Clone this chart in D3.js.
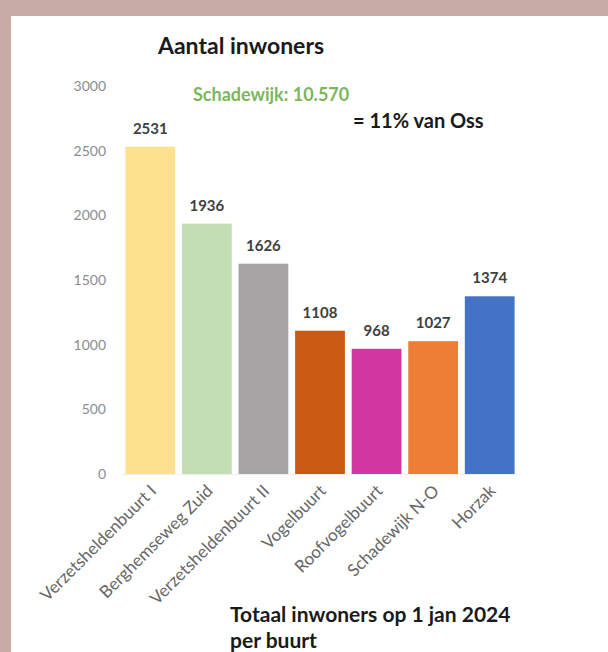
<!DOCTYPE html>
<html>
<head>
<meta charset="utf-8">
<script src="https://cdn.jsdelivr.net/npm/d3@7/dist/d3.min.js"></script>
<style>
  html, body { margin: 0; padding: 0; background: #c9aba6; }
  svg { display: block; }
</style>
</head>
<body>
<svg id="chart" width="608" height="652"></svg>
<script>
// Inwoners per buurt in Schadewijk (1 jan 2024)
const buurten = ["Verzetsheldenbuurt I", "Berghemseweg Zuid", "Verzetsheldenbuurt II",
                 "Vogelbuurt", "Roofvogelbuurt", "Schadewijk N-O", "Horzak"];
const inwoners = [2531, 1936, 1626, 1108, 968, 1027, 1374];
const kleuren = ["#fee18f", "#c2deb2", "#a8a4a5", "#c85a14", "#d136a1", "#ee7e33", "#4472c4"];
const yTicks = [0, 500, 1000, 1500, 2000, 2500, 3000];

const svg = d3.select("#chart");
const font = "Lato, 'Open Sans', sans-serif";

// white panel
svg.append("rect").attr("x", 11).attr("y", 16).attr("width", 597).attr("height", 636)
  .attr("fill", "#ffffff");

const x = d3.scaleBand().domain(buurten).range([122, 518])
  .paddingInner(0.12).paddingOuter(0.06);
const y = d3.scaleLinear().domain([0, 3000]).range([474, 86]);

// title
svg.append("text").attr("x", 241).attr("y", 54).attr("text-anchor", "middle")
  .attr("font-family", font).attr("font-weight", "bold").attr("font-size", 23)
  .attr("fill", "#1a1a1a").text("Aantal inwoners");

// y axis (labels only)
const yAxis = d3.axisLeft(y).tickValues(yTicks).tickFormat(d3.format("d"))
  .tickSize(0).tickPadding(0);
const gy = svg.append("g").attr("transform", "translate(106,0)").call(yAxis);
gy.select(".domain").remove();
gy.selectAll("text").attr("font-family", font).attr("font-size", 14)
  .attr("fill", "#8c8c8c");

// baseline
svg.append("line").attr("x1", x.range()[0]).attr("x2", x.range()[1])
  .attr("y1", y(0) + 0.5).attr("y2", y(0) + 0.5)
  .attr("stroke", "#eeeeee").attr("stroke-width", 1);

// bars
svg.append("g").selectAll("rect").data(buurten).join("rect")
  .attr("x", d => x(d)).attr("width", x.bandwidth())
  .attr("y", (d, i) => y(inwoners[i]))
  .attr("height", (d, i) => y(0) - y(inwoners[i]))
  .attr("fill", (d, i) => kleuren[i]);

// value labels
svg.append("g").selectAll("text").data(buurten).join("text")
  .attr("x", d => x(d) + x.bandwidth() / 2)
  .attr("y", (d, i) => y(inwoners[i]) - 13)
  .attr("text-anchor", "middle")
  .attr("font-family", font).attr("font-weight", "bold").attr("font-size", 15)
  .attr("fill", "#404040")
  .text((d, i) => inwoners[i]);

// x axis category labels, rotated
const xAxis = d3.axisBottom(x).tickSize(0).tickPadding(0);
const gx = svg.append("g").attr("transform", `translate(0,${y(0)})`).call(xAxis);
gx.select(".domain").remove();
gx.selectAll("text")
  .attr("font-family", font).attr("font-size", 17).attr("fill", "#666666")
  .attr("text-anchor", "end").attr("dy", null).attr("y", 0)
  .attr("transform", "translate(7,18) rotate(-45)");

// annotations
svg.append("text").attr("x", 193).attr("y", 101)
  .attr("font-family", font).attr("font-weight", "bold").attr("font-size", 18)
  .attr("fill", "#7db55a").text("Schadewijk: 10.570");
svg.append("text").attr("x", 353).attr("y", 128)
  .attr("font-family", font).attr("font-weight", "bold").attr("font-size", 20)
  .attr("fill", "#1a1a1a").text("= 11% van Oss");

svg.append("text").attr("x", 230).attr("y", 622)
  .attr("font-family", font).attr("font-weight", "bold").attr("font-size", 21)
  .attr("fill", "#1a1a1a").text("Totaal inwoners op 1 jan 2024");
svg.append("text").attr("x", 230).attr("y", 648)
  .attr("font-family", font).attr("font-weight", "bold").attr("font-size", 21)
  .attr("fill", "#1a1a1a").text("per buurt");
</script>
</body>
</html>
